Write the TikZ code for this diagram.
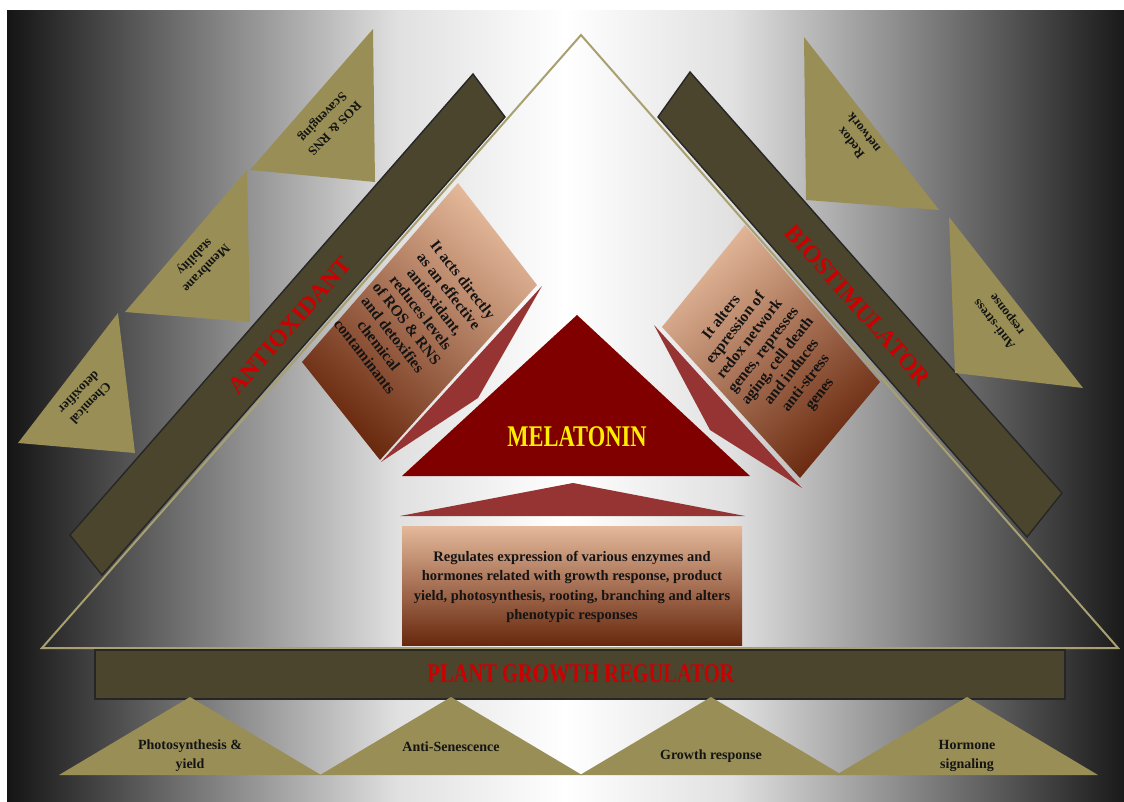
\documentclass[tikz,border=0pt]{standalone}
\usepackage{fontspec}
\setmainfont{Liberation Serif}
\definecolor{khaki}{RGB}{152,142,86}
\definecolor{khakiline}{RGB}{168,160,112}
\definecolor{barolive}{RGB}{74,69,44}
\definecolor{melred}{RGB}{128,0,0}
\definecolor{foldred}{RGB}{150,52,52}
\definecolor{peach}{RGB}{228,184,154}
\definecolor{rust}{RGB}{184,98,54}
\definecolor{umber}{RGB}{104,40,14}
\definecolor{labelred}{RGB}{204,0,0}
\definecolor{melyellow}{RGB}{255,238,0}
% the path is fitted to the 25bp--75bp part of the shading
\pgfdeclarehorizontalshading{greyband}{100bp}{color(0bp)=(black!92); color(25bp)=(black!92); color(42.5bp)=(black!12); color(50bp)=(white); color(57.5bp)=(black!12); color(75bp)=(black!90); color(100bp)=(black!90)}

\begin{document}
\begin{tikzpicture}[x=1pt,y=-1pt,
  tri/.style={fill=khaki},
  bar/.style={fill=barolive,draw=black!85,line width=1.4pt},
  pad/.style={top color=peach,middle color=rust,bottom color=umber},
  fold/.style={fill=foldred},
  lbl/.style={font=\bfseries\fontsize{13}{16}\selectfont,align=center,text=black!92},
  base/.style={font=\bfseries\fontsize{14}{19}\selectfont,align=center,text=black!92},
  note/.style={font=\bfseries\fontsize{15.5}{17.8}\selectfont,align=center,text=black!92},
  title/.style={font=\bfseries\fontsize{24}{26}\selectfont,text=labelred}]
  \useasboundingbox (0,0) rectangle (1124,802);
  \fill[white] (0,0) rectangle (1124,802);
  \shade[shading=greyband] (7,11) rectangle (1124,802);

  % big triangle outline
  \draw[khakiline,line width=2pt] (581,35) -- (1118,648) -- (42,648) -- cycle;

  % side bars
  \draw[bar] (473,74) -- (505,117) -- (102,575) -- (70,535) -- cycle;
  \draw[bar] (690,72) -- (1062,493) -- (1027,537) -- (658,117) -- cycle;
  \draw[bar] (95,650) rectangle (1065,699);

  % khaki triangles along the bars
  \fill[tri] (373,29) -- (250,170) -- (375,182) -- cycle;
  \fill[tri] (247,170) -- (125,312) -- (250,322) -- cycle;
  \fill[tri] (118,313) -- (18,443) -- (135,453) -- cycle;
  \fill[tri] (804,37) -- (806,200) -- (939,210) -- cycle;
  \fill[tri] (949,217) -- (955,373) -- (1083,388) -- cycle;
  \foreach \x in {190,451,711,967}
    \fill[tri] (\x,697) -- (\x+131,775) -- (\x-131,775) -- cycle;

  % text panels with their folds
  \fill[fold] (542,286) -- (478,398) -- (381,462) -- cycle;
  \shade[pad,shading angle=-41] (458,183) -- (537,285) -- (380,460) -- (302,362) -- cycle;
  \fill[fold] (654,325) -- (710,430) -- (802,488) -- cycle;
  \shade[pad,shading angle=41] (745,225) -- (880,382) -- (800,478) -- (662,327) -- cycle;

  % melatonin block
  \fill[melred] (577,315) -- (750,476) -- (402,476) -- cycle;
  \fill[fold] (573,483) -- (745,516) -- (400,516) -- cycle;
  \shade[pad] (402,526) rectangle (742,645);

  % titles
  \node[title,rotate=48.8] (antiox) at (290,325) {ANTIOXIDANT};
  \node[title,rotate=-48.5] (biostim) at (858,305) {BIOSTIMULATOR};
  \node[title,font=\bfseries\fontsize{27}{28}\selectfont] (pgr) at (581,674) {\scalebox{0.76}[1]{PLANT GROWTH REGULATOR}};
  \node[text=melyellow,font=\bfseries\fontsize{30}{32}\selectfont] (mel) at (577,437) {\scalebox{0.75}[1]{MELATONIN}};

  % panel texts
  \node[note,rotate=-52] (direct) at (414,318) {It acts directly\\as an effective\\antioxidant,\\reduces levels\\of ROS \& RNS\\and detoxifies\\chemical\\contaminants};
  \node[note,rotate=52] (alters) at (771,356) {It alters\\expression of\\redox network\\genes, represses\\aging, cell death\\and induces\\anti-stress\\genes};
  \node[base,font=\bfseries\fontsize{14.5}{19.5}\selectfont] (regul) at (572,587) {Regulates expression of various enzymes and\\hormones related with growth response, product\\yield, photosynthesis, rooting, branching and alters\\phenotypic responses};

  % triangle labels
  \node[lbl,rotate=226] (ros) at (328,122) {ROS \& RNS\\Scavenging};
  \node[lbl,rotate=226] (membrane) at (200,262) {Membrane\\stability};
  \node[lbl,rotate=226] (chem) at (85,398) {Chemical\\detoxifier};
  \node[lbl,rotate=128] (redox) at (857,138) {Redox\\network};
  \node[lbl,rotate=128] (stress) at (1001,319) {Anti-stress\\response};
  \node[base] (photo) at (190,756) {Photosynthesis \&\\yield};
  \node[base] (senes) at (451,747) {Anti-Senescence};
  \node[base] (growth) at (711,756) {Growth response};
  \node[base] (hormone) at (967,756) {Hormone\\signaling};
\end{tikzpicture}
\end{document}
